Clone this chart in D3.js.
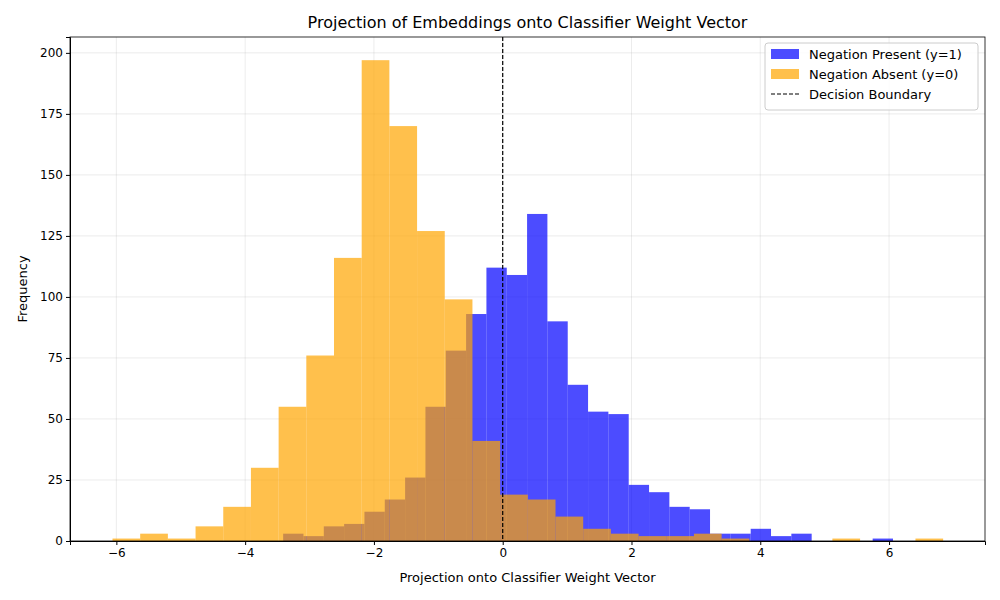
<!doctype html>
<html>
<head>
<meta charset="utf-8">
<script src="https://d3js.org/d3.v7.min.js"></script>
<style>
  body { margin: 0; background: #fff; font-family: "DejaVu Sans", sans-serif; }
</style>
</head>
<body>
<svg id="chart" width="1000" height="600"></svg>
<script>
// histogram counts
const presentCounts = [3, 2, 6, 7, 12, 17, 26, 55, 78, 93, 112, 109, 134, 90, 64, 53, 52, 23, 20, 14, 13, 3, 3, 5, 2, 3, 0, 0, 0, 1];
const presentStart = -3.41, presentWidth = 0.3157;
const absentCounts = [1, 3, 1, 6, 14, 30, 55, 76, 116, 197, 170, 127, 99, 41, 19, 17, 10, 5, 3, 2, 2, 3, 1, 0, 0, 0, 1, 0, 0, 1];
const absentStart = -6.06, absentWidth = 0.43;
const xTicks = [-6, -4, -2, 0, 2, 4, 6];
const yTicks = [0, 25, 50, 75, 100, 125, 150, 175, 200];
const legendLabels = ["Negation Present (y=1)", "Negation Absent (y=0)", "Decision Boundary"];

const svg = d3.select("#chart");
const m = {l: 70, r: 985, t: 37, b: 541};
const x = d3.scaleLinear().domain([-6.72, 7.49]).range([m.l, m.r]);
const y = d3.scaleLinear().domain([0, 206.5]).range([m.b, m.t]);

// grid
svg.append("g").selectAll("line").data(xTicks).join("line")
  .attr("x1", d => x(d)).attr("x2", d => x(d)).attr("y1", m.t).attr("y2", m.b)
  .attr("stroke", "#b0b0b0").attr("stroke-opacity", 0.3).attr("stroke-width", 0.8);
svg.append("g").selectAll("line").data(yTicks).join("line")
  .attr("x1", m.l).attr("x2", m.r).attr("y1", d => y(d)).attr("y2", d => y(d))
  .attr("stroke", "#b0b0b0").attr("stroke-opacity", 0.3).attr("stroke-width", 0.8);

function bars(counts, start, w, color) {
  svg.append("g").selectAll("rect").data(counts).join("rect")
    .attr("x", (d, i) => x(start + i * w))
    .attr("width", (d, i) => x(start + (i + 1) * w) - x(start + i * w))
    .attr("y", d => y(d)).attr("height", d => y(0) - y(d))
    .attr("fill", color).attr("fill-opacity", 0.7);
}
bars(presentCounts, presentStart, presentWidth, "blue");
bars(absentCounts, absentStart, absentWidth, "orange");

// decision boundary
svg.append("line").attr("x1", x(0)).attr("x2", x(0)).attr("y1", m.t).attr("y2", m.b)
  .attr("stroke", "black").attr("stroke-width", 1.2).attr("stroke-dasharray", "4,2");

// axes
const fmt = d => (d < 0 ? "\u2212" + Math.abs(d) : d);
svg.append("g").attr("transform", `translate(0,${m.b})`)
  .call(d3.axisBottom(x).tickValues(xTicks).tickFormat(fmt).tickSizeOuter(0).tickSize(4))
  .call(g => g.selectAll("text").attr("font-size", 12).attr("fill", "#000").attr("font-family", "DejaVu Sans"));
svg.append("g").attr("transform", `translate(${m.l},0)`)
  .call(d3.axisLeft(y).tickValues(yTicks).tickSizeOuter(0).tickSize(4))
  .call(g => g.selectAll("text").attr("font-size", 12).attr("fill", "#000").attr("font-family", "DejaVu Sans"));
svg.append("rect").attr("x", m.l).attr("y", m.t).attr("width", m.r - m.l).attr("height", m.b - m.t)
  .attr("fill", "none").attr("stroke", "#000").attr("stroke-width", 0.8);

// labels
svg.append("text").attr("x", (m.l + m.r) / 2).attr("y", 28).attr("text-anchor", "middle")
  .attr("font-size", 16).text("Projection of Embeddings onto Classifier Weight Vector");
svg.append("text").attr("x", (m.l + m.r) / 2).attr("y", 582).attr("text-anchor", "middle")
  .attr("font-size", 13).text("Projection onto Classifier Weight Vector");
svg.append("text").attr("transform", `translate(27,${(m.t + m.b) / 2}) rotate(-90)`)
  .attr("text-anchor", "middle").attr("font-size", 13).text("Frequency");

// legend
const lg = svg.append("g").attr("transform", "translate(765,43)");
lg.append("rect").attr("width", 213).attr("height", 67).attr("rx", 3)
  .attr("fill", "#fff").attr("fill-opacity", 0.8).attr("stroke", "#ccc");
legendLabels.forEach((t, i) => {
  const yy = 11 + i * 20;
  if (i < 2) {
    lg.append("rect").attr("x", 6).attr("y", yy - 5).attr("width", 28).attr("height", 10)
      .attr("fill", i === 0 ? "blue" : "orange").attr("fill-opacity", 0.7);
  } else {
    lg.append("line").attr("x1", 6).attr("x2", 34).attr("y1", yy).attr("y2", yy)
      .attr("stroke", "black").attr("stroke-width", 1.2).attr("stroke-dasharray", "4,2");
  }
  lg.append("text").attr("x", 44).attr("y", yy + 4.5).attr("font-size", 13).text(t);
});
</script>
</body>
</html>
